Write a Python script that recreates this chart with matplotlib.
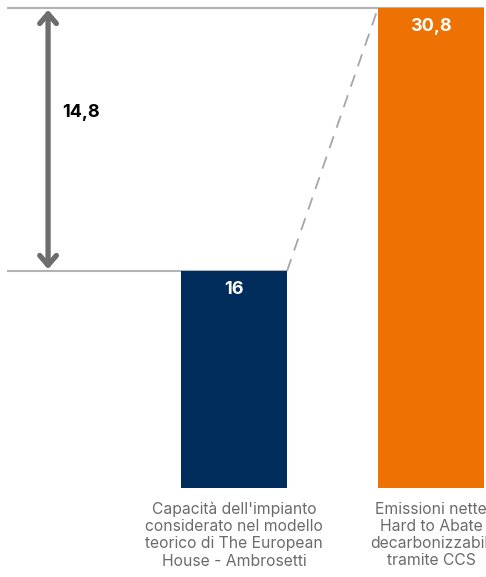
import matplotlib
matplotlib.use('Agg')
import matplotlib.pyplot as plt

categories = ["Capacità dell'impianto\nconsiderato nel modello\nteorico di The European\nHouse - Ambrosetti",
              "Emissioni nette\nHard to Abate\ndecarbonizzabili\ntramite CCS"]
values = [16, 30.8]
value_labels = ['16', '30,8']
gap_label = '14,8'
colors = ['#002d5c', '#ed7203']

plt.rcParams['font.family'] = ['Inter', 'DejaVu Sans']

fig = plt.figure(figsize=(4.86, 5.77), dpi=100)
ax = fig.add_axes([0, 89 / 577, 1, 488 / 577])

x = [0, 1]
w = 0.538
ax.bar(x, values, width=w, color=colors, zorder=2)
ax.set_xlim(-1.188, 1.279)
ax.set_ylim(3.79, 31.25)

# reference lines at both bar tops
line_col = '#b3b3b3'
ax.hlines(values[1], -1.152, x[1] + w / 2, color=line_col, lw=1.5, zorder=1)
ax.hlines(values[0], -1.152, x[0] + w / 2, color=line_col, lw=1.5, zorder=1)
ax.plot([x[0] + w / 2, x[1] - w / 2], [values[0], values[1]], color='#a6a6a6',
        lw=1.3, ls=(0, (7, 5)), zorder=1)

# double arrow for the gap
ax.annotate('', xy=(-0.944, values[1] - 0.1), xytext=(-0.944, values[0] + 0.1),
            arrowprops=dict(arrowstyle='<->,head_length=0.7,head_width=0.6',
                            color='#6d6d6d', lw=3.8, shrinkA=0, shrinkB=0,
                            capstyle='round', joinstyle='round'))
ax.text(-0.873, 24.9, gap_label, fontsize=13, fontweight='bold', va='center', ha='left')

for xi, v, lab in zip(x, values, value_labels):
    ax.annotate(lab, (xi, v), xytext=(0, -13.5), textcoords='offset points',
                ha='center', va='center', color='white', fontsize=13, fontweight='bold')

ax.set_xticks(x)
ax.set_xticklabels(categories, color='#6b6b6b', fontsize=11.3, linespacing=1.18)
ax.tick_params(axis='x', length=0, pad=10)
ax.set_yticks([])
for s in ax.spines.values():
    s.set_visible(False)

plt.savefig('out.png', dpi=100)
